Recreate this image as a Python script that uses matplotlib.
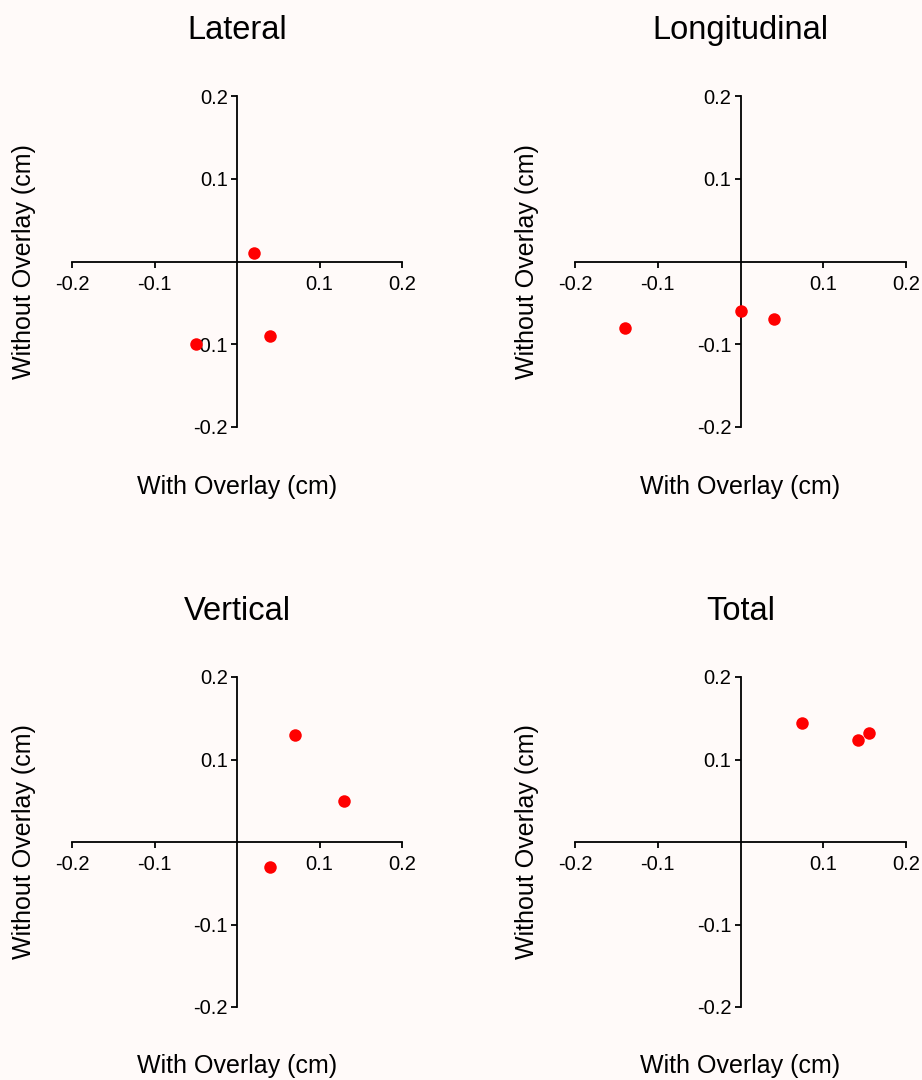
import matplotlib
matplotlib.use("Agg")
import matplotlib.pyplot as plt
import numpy as np

# Data (cm)
titles = ["Lateral", "Longitudinal", "Vertical", "Total"]
lateral_x = [0.02, 0.04, -0.05]
lateral_y = [0.01, -0.09, -0.10]
longitudinal_x = [-0.14, 0.0, 0.04]
longitudinal_y = [-0.08, -0.06, -0.07]
vertical_x = [0.07, 0.13, 0.04]
vertical_y = [0.13, 0.05, -0.03]
total_x = [0.074, 0.142, 0.155]
total_y = [0.144, 0.124, 0.132]
tick_values = [-0.2, -0.1, 0.1, 0.2]
tick_labels = ["-0.2", "-0.1", "0.1", "0.2"]

xs = [lateral_x, longitudinal_x, vertical_x, total_x]
ys = [lateral_y, longitudinal_y, vertical_y, total_y]

plt.rcParams["font.family"] = ["Liberation Sans", "DejaVu Sans"]
plt.rcParams["axes.unicode_minus"] = False

bg = "#fffaf9"
W, H = 922, 1080
fig = plt.figure(figsize=(W / 100, H / 100), dpi=100, facecolor=bg)

# axes boxes in pixels: left, top, right, bottom
boxes = [(72, 96, 402, 427), (575, 96, 906, 427),
         (72, 677, 402, 1007), (575, 677, 906, 1007)]

for i in range(4):
    l, t, r, b = boxes[i]
    ax = fig.add_axes([l / W, (H - b) / H, (r - l) / W, (b - t) / H])
    ax.set_facecolor(bg)
    ax.patch.set_alpha(0)

    ax.plot(xs[i], ys[i], "o", color="#ff0000", markersize=9,
            markeredgewidth=0, clip_on=False, zorder=3)

    ax.set_xlim(-0.2, 0.2)
    ax.set_ylim(-0.2, 0.2)

    # Axes crossing at zero
    ax.spines["left"].set_position(("data", 0))
    ax.spines["bottom"].set_position(("data", 0))
    ax.spines["right"].set_visible(False)
    ax.spines["top"].set_visible(False)
    for s in ["left", "bottom"]:
        ax.spines[s].set_linewidth(1.3)
        ax.spines[s].set_color("black")

    ax.set_xticks(tick_values)
    ax.set_xticklabels(tick_labels)
    ax.set_yticks(tick_values)
    ax.set_yticklabels(tick_labels)
    ax.tick_params(axis="x", direction="out", length=4, width=1.3, pad=5.5, labelsize=14.5)
    ax.tick_params(axis="y", direction="out", length=4, width=1.3, pad=2.5, labelsize=14.5)

    ax.set_title(titles[i], fontsize=23.5, pad=41)
    ax.text(0.5, -0.18, "With Overlay (cm)", transform=ax.transAxes,
            ha="center", va="center", fontsize=18)
    ax.text(-0.145, 0.5, "Without Overlay (cm)", transform=ax.transAxes,
            ha="center", va="center", rotation=90, fontsize=18)

plt.savefig("out.png", dpi=100, facecolor=bg)
